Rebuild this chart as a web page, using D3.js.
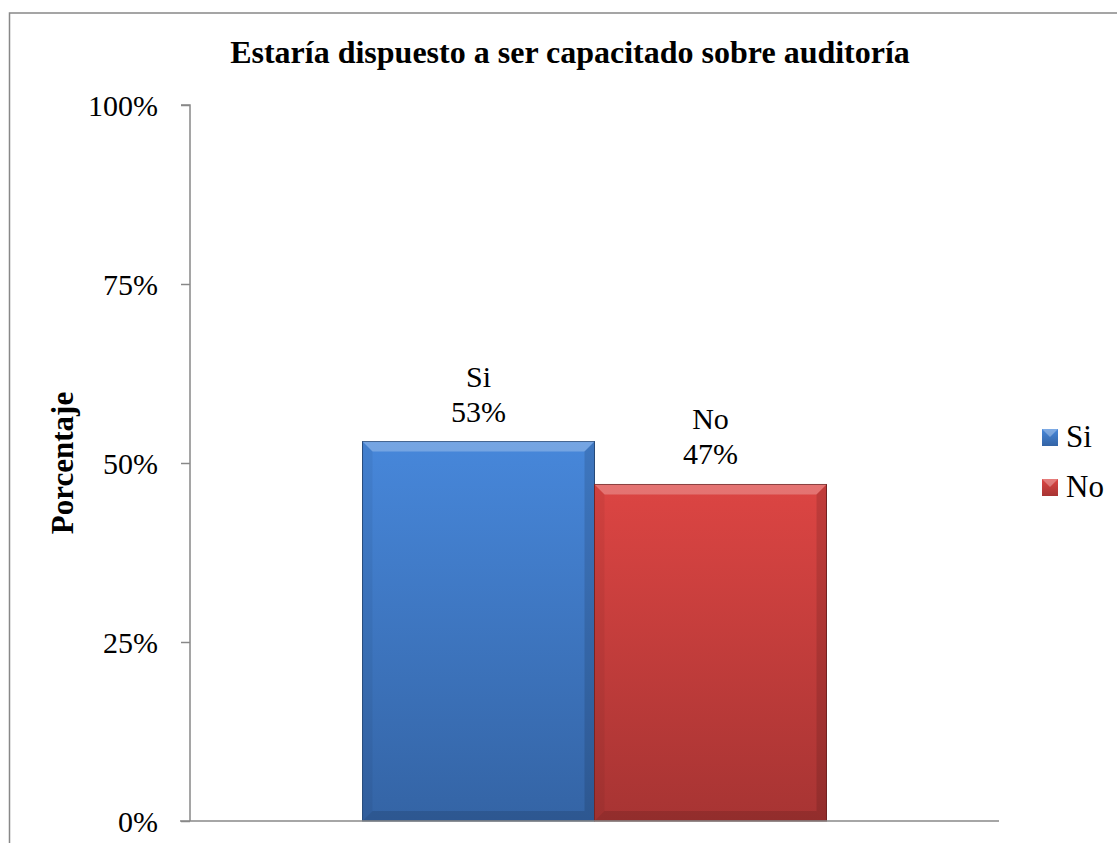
<!DOCTYPE html>
<html><head><meta charset="utf-8">
<script src="https://cdn.jsdelivr.net/npm/d3@7"></script>
<style>body{margin:0;background:#fff}svg{display:block}</style>
</head><body>
<svg id="chart" width="1117" height="843"></svg>
<script>
const categories = ["Si", "No"];
const values = [0.53, 0.47];
const tickValues = [0, 0.25, 0.5, 0.75, 1];
const title = "Estaría dispuesto a ser capacitado sobre auditoría";
const yTitle = "Porcentaje";

const svg = d3.select("#chart");
const font = "'Liberation Serif','Times New Roman',serif";
const pLeft = 190, pRight = 999, pTop = 105, pBottom = 821;

// outer border
svg.append("rect").attr("x", 9.5).attr("y", 13).attr("width", 1120).attr("height", 900)
  .attr("fill", "none").attr("stroke", "#888").attr("stroke-width", 1.5);

const y = d3.scaleLinear().domain([0, 1]).range([pBottom, pTop]);
const x0 = d3.scaleBand().domain(["g"]).range([pLeft, pRight]).paddingInner(0).paddingOuter(0.3718);
const x1 = d3.scaleBand().domain(categories).range([0, x0.bandwidth()]);

const defs = svg.append("defs");
const cols = {Si: ["#4787da", "#3464a5"], No: ["#dc4543", "#a73433"]};
categories.forEach(c => {
  const g = defs.append("linearGradient").attr("id", "g" + c).attr("x1", 0).attr("y1", 0).attr("x2", 0).attr("y2", 1);
  g.append("stop").attr("offset", "0%").attr("stop-color", cols[c][0]);
  g.append("stop").attr("offset", "100%").attr("stop-color", cols[c][1]);
});

// y axis
const yAxis = d3.axisLeft(y).tickValues(tickValues).tickFormat(d3.format(".0%")).tickSize(9).tickPadding(23);
const ya = svg.append("g").attr("transform", `translate(${pLeft},0)`).call(yAxis);
ya.select(".domain").attr("stroke", "#888").attr("stroke-width", 1.5).attr("d", `M-9,${pTop}H0V${pBottom}`);
ya.selectAll(".tick line").attr("stroke", "#888").attr("stroke-width", 1.5);
ya.selectAll(".tick text").attr("font-family", font).attr("font-size", 30).attr("fill", "#000").attr("dy", "0.34em");

// bars
const bw = x1.bandwidth(), bev = 10;
const bars = svg.append("g").selectAll("g").data(categories).join("g");
bars.each(function(c, i) {
  const g = d3.select(this);
  const bx = x0("g") + x1(c), by = y(values[i]), bh = pBottom - by;
  g.append("rect").attr("x", bx).attr("y", by).attr("width", bw).attr("height", bh)
    .attr("fill", `url(#g${c})`).attr("stroke", c === "Si" ? "#2a4f80" : "#7a2524").attr("stroke-width", 1);
  g.append("path").attr("d", `M${bx},${by}H${bx+bw}L${bx+bw-bev},${by+bev}H${bx+bev}Z`)
    .attr("fill", "#fff").attr("opacity", 0.25);
  g.append("path").attr("d", `M${bx},${by}L${bx+bev},${by+bev}V${pBottom-bev}L${bx},${pBottom}Z`)
    .attr("fill", "#000").attr("opacity", 0.05);
  g.append("path").attr("d", `M${bx+bw},${by}L${bx+bw-bev},${by+bev}V${pBottom-bev}L${bx+bw},${pBottom}Z`)
    .attr("fill", "#000").attr("opacity", 0.12);
  g.append("path").attr("d", `M${bx},${pBottom}L${bx+bev},${pBottom-bev}H${bx+bw-bev}L${bx+bw},${pBottom}Z`)
    .attr("fill", "#000").attr("opacity", 0.12);
  const cx = bx + bw / 2;
  g.append("text").attr("x", cx).attr("y", by - 55).attr("text-anchor", "middle")
    .attr("font-family", font).attr("font-size", 30).text(c);
  g.append("text").attr("x", cx).attr("y", by - 20).attr("text-anchor", "middle")
    .attr("font-family", font).attr("font-size", 30).text(d3.format(".0%")(values[i]));
});

// x axis
svg.append("line").attr("x1", pLeft - 10).attr("x2", pRight).attr("y1", pBottom).attr("y2", pBottom)
  .attr("stroke", "#888").attr("stroke-width", 1.5);

// title
svg.append("text").attr("x", 570).attr("y", 63).attr("text-anchor", "middle")
  .attr("font-family", font).attr("font-weight", "bold").attr("font-size", 32).text(title);
// y title
svg.append("text").attr("transform", `translate(73,${(pTop+pBottom)/2}) rotate(-90)`).attr("text-anchor", "middle")
  .attr("font-family", font).attr("font-weight", "bold").attr("font-size", 31).text(yTitle);

// legend
const leg = svg.append("g").selectAll("g").data(categories).join("g")
  .attr("transform", (d, i) => `translate(1042,${429 + i * 50})`);
leg.append("rect").attr("width", 16).attr("height", 17).attr("fill", d => `url(#g${d})`);
leg.append("path").attr("d", "M0,0H16L8,8Z").attr("fill", "#fff").attr("opacity", 0.3);
leg.append("text").attr("x", 24).attr("y", 18).attr("font-family", font).attr("font-size", 31).text(d => d);
</script>
</body></html>
